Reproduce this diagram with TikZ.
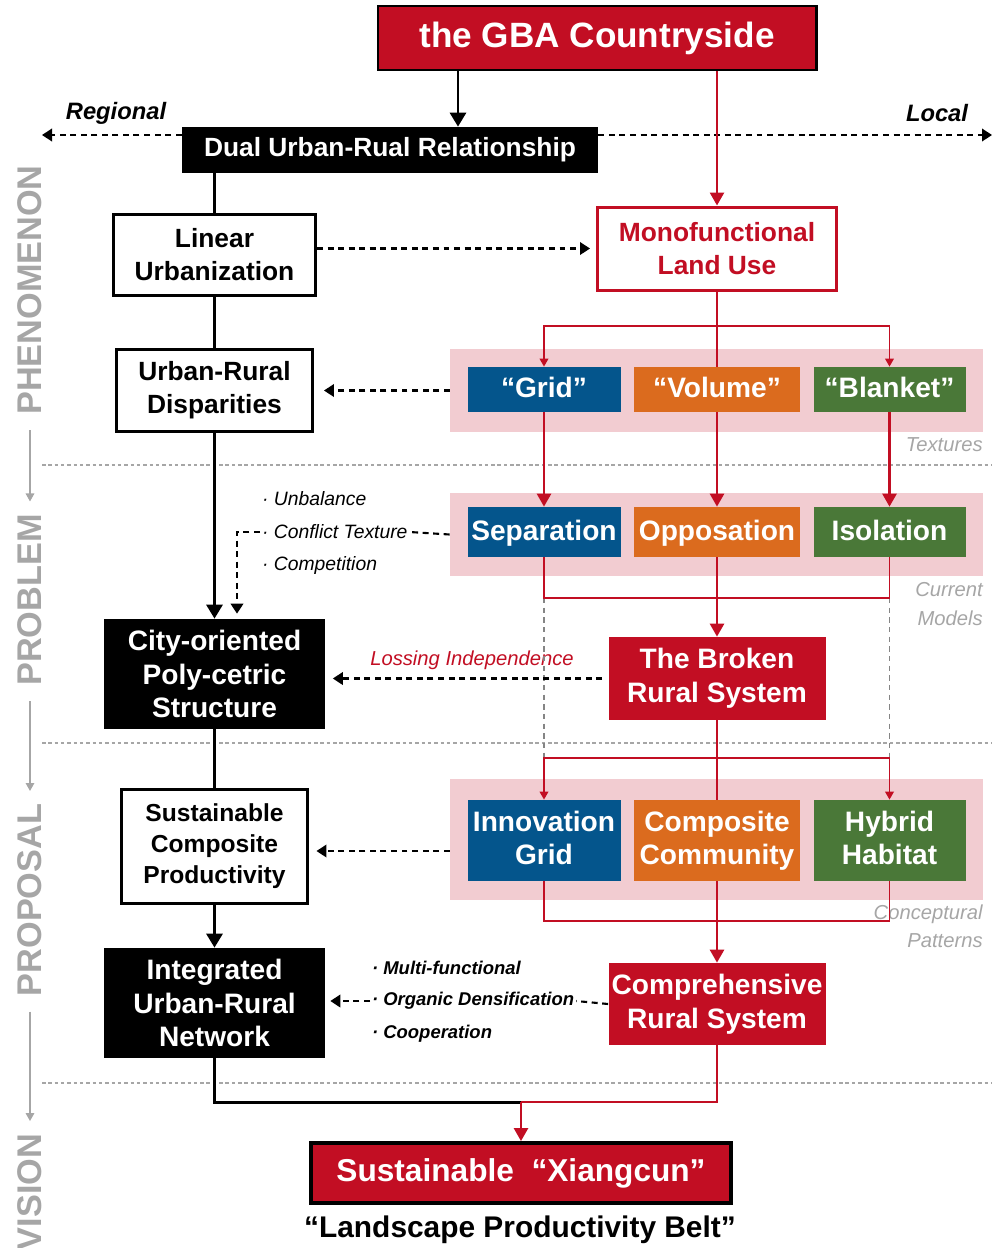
\documentclass[tikz,border=0pt]{standalone}
\usepackage{fontspec}
\setmainfont{Liberation Sans}
\usepackage{tikz}
\usetikzlibrary{arrows.meta,positioning}
\definecolor{gbared}{RGB}{194,14,35}
\definecolor{gridblue}{RGB}{4,85,140}
\definecolor{volorange}{RGB}{219,107,30}
\definecolor{blankgreen}{RGB}{74,120,56}
\definecolor{bandpink}{RGB}{242,204,209}
\definecolor{stagegray}{RGB}{166,166,166}
\newcommand{\fsz}[2]{\fontsize{#1}{#2}\selectfont}

\begin{document}
\begin{tikzpicture}[
  >={Triangle[length=0.28cm,width=0.32cm]},
  whitebox/.style={draw=black,line width=1.7pt,fill=white,align=center,
    inner sep=0pt,font=\bfseries\fsz{15}{18.5}},
  blackbox/.style={fill=black,text=white,align=center,inner sep=0pt,
    font=\bfseries\fsz{16}{19}},
  redbox/.style={fill=gbared,text=white,align=center,inner sep=0pt,
    font=\bfseries\fsz{16}{19.5}},
  tile/.style={text=white,align=center,inner sep=0pt,
    font=\bfseries\fsz{16}{18.5}},
  onerow/.style={tile,text depth=0.22em},
  band/.style={fill=bandpink,minimum width=10.66cm,inner sep=0pt},
  bullet/.style={anchor=west,inner sep=1pt,font=\itshape\fsz{11}{13}},
  tag/.style={anchor=east,align=right,inner sep=0pt,text=stagegray,
    font=\itshape\fsz{11.5}{16}},
  stage/.style={rotate=90,inner sep=0pt,text=stagegray,
    font=\bfseries\fsz{19.5}{20}},
  flow/.style={line width=1.7pt},
  redflow/.style={gbared,line width=1.5pt},
  bigred/.style={-{Triangle[length=0.26cm,width=0.28cm]}},
  fork/.style={gbared,line width=1.1pt},
  forkarrow/.style={-{Triangle[length=0.16cm,width=0.17cm]}},
  link/.style={line width=1.2pt,dash pattern=on 3.4pt off 2.6pt},
  linkarrow/.style={link,-{Triangle[length=0.2cm,width=0.25cm]}},
  graydash/.style={stagegray!80!black,line width=0.6pt,dash pattern=on 3pt off 2.5pt},
  divider/.style={stagegray,line width=0.6pt,dash pattern=on 2pt off 1.6pt},
  stagearrow/.style={stagegray,line width=0.9pt,
    -{Triangle[length=0.16cm,width=0.17cm]},shorten <=0.3cm,shorten >=0.25cm}
]
  \useasboundingbox (0,0) rectangle (19.92,-24.96);

  % stage dividers
  \draw[divider] (0.84,-9.30) -- (19.84,-9.30);
  \draw[divider] (0.84,-14.86) -- (19.84,-14.86);
  \draw[divider] (0.84,-21.66) -- (19.84,-21.66);

  % stages on the left
  \node[stage] (phen) at (0.60,-5.80) {PHENOMENON};
  \node[stage] (prob) at (0.60,-12.00) {PROBLEM};
  \node[stage] (prop) at (0.60,-18.00) {PROPOSAL};
  \node[stage] (vision) at (0.60,-23.84) {VISION};
  \draw[stagearrow] (phen.west) -- (prob.east);
  \draw[stagearrow] (prob.west) -- (prop.east);
  \draw[stagearrow] (prop.west) -- (vision.east);

  % pink bands
  \node[band,minimum height=1.66cm] (texband) at (14.33,-7.81) {};
  \node[band,minimum height=1.66cm] (modband) at (14.33,-10.69) {};
  \node[band,minimum height=2.42cm] (patband) at (14.33,-16.79) {};

  % top
  \node[draw=black,line width=1.7pt,fill=gbared,text=white,minimum width=8.76cm,
    minimum height=1.28cm,font=\bfseries\fsz{20}{22}] (gba) at (11.94,-0.76)
    {the GBA Countryside};
  \node[fill=black,text=white,minimum width=8.32cm,minimum height=0.92cm,
    inner sep=0pt,font=\bfseries\fsz{15}{18}] (dual) at (7.80,-3.00)
    {Dual Urban-Rual Relationship};
  \coordinate (farwest) at (0.84,-2.70);
  \coordinate (fareast) at (19.84,-2.70);
  \node[font=\bfseries\itshape\fsz{13.5}{16}] (regional) at (2.32,-2.26) {Regional};
  \node[font=\bfseries\itshape\fsz{13.5}{16}] (local) at (18.74,-2.26) {Local};

  % left column
  \node[whitebox,minimum width=4.04cm,minimum height=1.62cm] (linear)
    at (4.29,-5.09) {Linear\\Urbanization};
  \node[whitebox,minimum width=3.92cm,minimum height=1.64cm] (disp)
    at (4.29,-7.80) {Urban-Rural\\Disparities};
  \node[blackbox,minimum width=4.42cm,minimum height=2.2cm] (city)
    at (4.29,-13.48) {City-oriented\\Poly-cetric\\Structure};
  \node[whitebox,minimum width=3.72cm,minimum height=2.28cm,
    font=\bfseries\fsz{14}{17.5}] (sust) at (4.29,-16.92)
    {Sustainable\\Composite\\Productivity};
  \node[blackbox,minimum width=4.42cm,minimum height=2.2cm] (integ)
    at (4.29,-20.06) {Integrated\\Urban-Rural\\Network};

  % right column
  \node[draw=gbared,line width=1.7pt,fill=white,text=gbared,align=center,
    inner sep=0pt,minimum width=4.78cm,minimum height=1.66cm,
    font=\bfseries\fsz{15}{18.5}] (mono) at (14.34,-4.97)
    {Monofunctional\\Land Use};
  \node[onerow,fill=gridblue,minimum width=3.06cm,minimum height=0.9cm] (grid)
    at (10.88,-7.79) {“Grid”};
  \node[onerow,fill=volorange,minimum width=3.32cm,minimum height=0.9cm] (volume)
    at (14.34,-7.79) {“Volume”};
  \node[onerow,fill=blankgreen,minimum width=3.04cm,minimum height=0.9cm] (blanket)
    at (17.79,-7.79) {“Blanket”};
  \node[tag] (textures) at (19.66,-8.90) {Textures};

  \node[onerow,fill=gridblue,minimum width=3.06cm,minimum height=1.0cm] (sep)
    at (10.88,-10.64) {Separation};
  \node[onerow,fill=volorange,minimum width=3.32cm,minimum height=1.0cm] (oppo)
    at (14.34,-10.64) {Opposation};
  \node[onerow,fill=blankgreen,minimum width=3.04cm,minimum height=1.0cm] (iso)
    at (17.79,-10.64) {Isolation};
  \node[tag] (models) at (19.66,-12.08) {Current\\Models};

  \node[redbox,minimum width=4.34cm,minimum height=1.66cm] (broken)
    at (14.34,-13.57) {The Broken\\Rural System};

  \node[tile,fill=gridblue,minimum width=3.06cm,minimum height=1.62cm] (innov)
    at (10.88,-16.81) {Innovation\\Grid\vphantom{y}};
  \node[tile,fill=volorange,minimum width=3.32cm,minimum height=1.62cm] (comp)
    at (14.34,-16.81) {Composite\\Community};
  \node[tile,fill=blankgreen,minimum width=3.04cm,minimum height=1.62cm] (hybrid)
    at (17.79,-16.81) {Hybrid\\Habitat\vphantom{y}};
  \node[tag] (patterns) at (19.66,-18.52) {Conceptural\\Patterns};

  \node[redbox,minimum width=4.34cm,minimum height=1.64cm] (compr)
    at (14.34,-20.08) {Comprehensive\\Rural System};

  % bottom
  \node[draw=black,line width=2.2pt,fill=gbared,text=white,minimum width=8.4cm,
    minimum height=1.2cm,font=\bfseries\fsz{18}{20}] (xiang) at (10.42,-23.46)
    {Sustainable ~“Xiangcun”};
  \node[font=\bfseries\fsz{17}{19}] (belt) at (10.40,-24.60)
    {“Landscape Productivity Belt”};
  \coordinate (meet) at (10.42,-22.04);

  % side notes
  \node[bullet] (unbal) at (5.20,-9.98) {· Unbalance};
  \node[bullet] (conflict) at (5.20,-10.64) {· Conflict Texture};
  \node[bullet] (compet) at (5.20,-11.30) {· Competition};
  \node[text=gbared,font=\itshape\fsz{11.5}{13}] (lossing) at (9.44,-13.20)
    {Lossing Independence};
  \node[bullet,font=\bfseries\itshape\fsz{10.5}{13}] (multi) at (7.40,-19.36)
    {· Multi-functional};
  \node[bullet,font=\bfseries\itshape\fsz{10.5}{13}] (dens) at (7.40,-20.02)
    {· Organic Densification};
  \node[bullet,font=\bfseries\itshape\fsz{10.5}{13}] (coop) at (7.40,-20.68)
    {· Cooperation};

  % regional / local
  \draw[linkarrow] (dual.west |- farwest) -- (farwest);
  \draw[linkarrow] (dual.east |- fareast) -- (fareast);

  % black flow
  \draw[flow,->] ([xshift=-2.78cm]gba.south) -- ([xshift=-2.78cm]gba.south |- dual.north);
  \draw[flow] (linear.north |- dual.south) -- (linear.north);
  \draw[flow] (linear.south) -- (disp.north);
  \draw[flow,->] (disp.south) -- (city.north);
  \draw[flow] (city.south) -- (sust.north);
  \draw[flow,->] (sust.south) -- (integ.north);
  \draw[flow] (integ.south) |- (meet);

  % red flow
  \coordinate (fork1) at (14.34,-6.52);
  \coordinate (merge1) at (14.34,-11.96);
  \coordinate (fork2) at (14.34,-15.16);
  \coordinate (merge2) at (14.34,-18.42);
  \draw[graydash] (sep.south |- merge1) -- (innov.north |- fork2);
  \draw[graydash] (iso.south |- merge1) -- (hybrid.north |- fork2);
  \draw[redflow,bigred] (gba.south -| mono.north) -- (mono.north);
  \draw[redflow] (mono.south) -- (volume.north);
  \draw[fork,forkarrow] (fork1) -| (grid.north);
  \draw[fork,forkarrow] (fork1) -| (blanket.north);
  \draw[redflow,bigred] (grid.south) -- (sep.north);
  \draw[redflow,bigred] (volume.south) -- (oppo.north);
  \draw[redflow,bigred] (blanket.south) -- (iso.north);
  \draw[fork] (sep.south) |- (merge1) -| (iso.south);
  \draw[redflow,bigred] (oppo.south) -- (broken.north);
  \draw[redflow] (broken.south) -- (comp.north);
  \draw[fork,forkarrow] (fork2) -| (innov.north);
  \draw[fork,forkarrow] (fork2) -| (hybrid.north);
  \draw[fork] (innov.south) |- (merge2) -| (hybrid.south);
  \draw[redflow,bigred] (comp.south) -- (compr.north);
  \draw[redflow] (compr.south) |- (meet);
  \draw[redflow,bigred] (meet) -- (xiang.north);

  % dashed links
  \draw[linkarrow,shorten >=0.12cm] (linear.east |- mono.west) -- (mono.west);
  \draw[linkarrow,shorten >=0.2cm] (texband.west) -- (texband.west -| disp.east);
  \draw[link] (modband.west) -- (conflict.east);
  \draw[linkarrow,shorten >=0.1cm] (conflict.west) -| ([xshift=0.45cm]city.north);
  \draw[linkarrow,shorten <=0.12cm,shorten >=0.15cm] (broken.west) -- (broken.west -| city.east);
  \draw[linkarrow,shorten >=0.15cm] ([yshift=-0.23cm]patband.west)
    -- ([yshift=-0.23cm]patband.west -| sust.east);
  \draw[link] (compr.west) -- (dens.east);
  \draw[linkarrow,shorten >=0.1cm] (dens.west) -- (dens.west -| integ.east);
\end{tikzpicture}
\end{document}
